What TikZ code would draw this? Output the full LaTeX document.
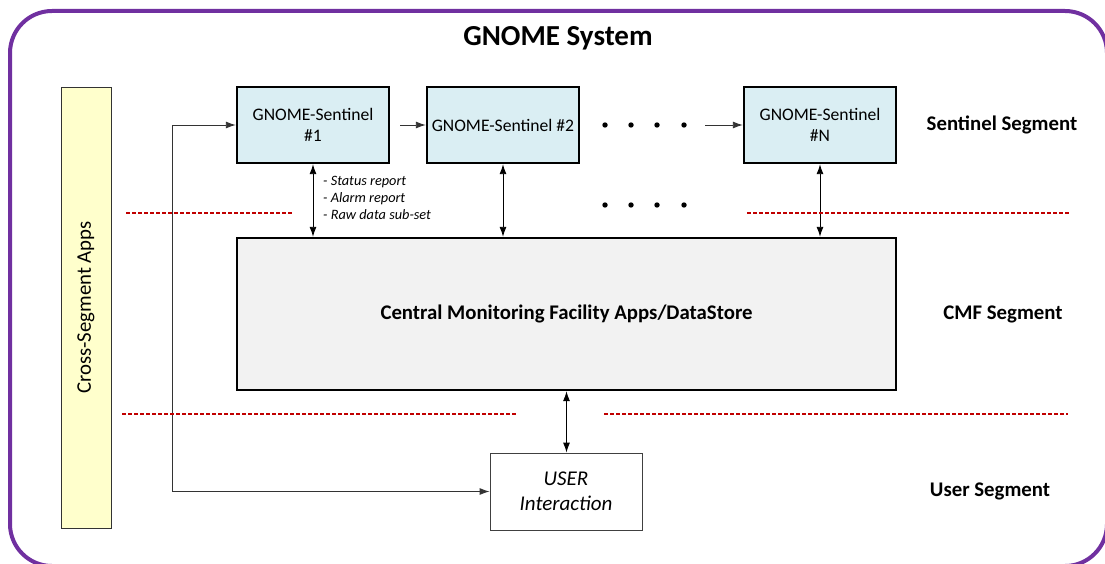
\documentclass[tikz,border=0pt]{standalone}
\usepackage{fontspec}
\setmainfont{Carlito}
\usetikzlibrary{arrows.meta, positioning}
\definecolor{framepurple}{HTML}{7030A0}
\definecolor{sentinelblue}{HTML}{DAEEF3}
\definecolor{cmfgray}{HTML}{F2F2F2}
\definecolor{appyellow}{HTML}{FFFFCC}
\definecolor{segred}{HTML}{C00000}
\tikzset{
    sentinel/.style={draw, line width=2.4pt, fill=sentinelblue, minimum width=152pt, minimum height=76pt,
        align=center, inner sep=0pt, font=\fontsize{17.6}{21.5}\selectfont},
    cmfbox/.style={draw, line width=2.4pt, fill=cmfgray, minimum width=659pt, minimum height=152pt,
        inner sep=0pt, font=\fontsize{20.8}{24}\selectfont\bfseries},
    userbox/.style={draw=black!75, line width=0.9pt, fill=white, minimum width=152pt, minimum height=77pt,
        align=center, inner sep=0pt, font=\fontsize{21}{24.5}\selectfont\itshape},
    appbox/.style={draw=black!80, line width=0.9pt, fill=appyellow, minimum width=50pt, minimum height=441pt,
        inner sep=0pt},
    seglabel/.style={font=\fontsize{20.8}{24}\selectfont\bfseries},
    notetext/.style={align=left, inner sep=0pt, font=\fontsize{14.3}{17}\selectfont\itshape},
    flow/.style={draw=black!80, line width=0.9pt, -{Latex[length=10pt,width=7pt]}},
    bothflow/.style={draw=black, line width=0.9pt, {Latex[length=10pt,width=7pt]}-{Latex[length=10pt,width=7pt]}},
    segline/.style={draw=segred, line width=1.3pt, dash pattern=on 4pt off 2pt},
    dot/.style={fill=black}
}
\begin{document}
\begin{tikzpicture}[x=1pt, y=-1pt]
    \useasboundingbox (0,0) rectangle (1105,564);
    \draw[framepurple, line width=4pt, rounded corners=42pt] (10,11) rectangle (1107,566);
    \node[font=\fontsize{29}{34}\selectfont\bfseries] (title) at (558,38) {GNOME System};

    \node[appbox] (apps) at (86,307.5) {};
    \node[rotate=90, font=\fontsize{20.8}{24}\selectfont] (appstext) at (apps.center) {Cross-Segment Apps};

    % sentinel segment
    \node[sentinel] (s1) at (313,125) {GNOME-Sentinel\\\#1};
    \node[sentinel] (s2) at (503,125) {GNOME-Sentinel \#2};
    \node[sentinel] (sN) at (820,125) {GNOME-Sentinel\\\#N};
    \foreach \x in {605,631,657,684}{
        \fill[dot] (\x,125) circle (2.7pt);
        \fill[dot] (\x,205) circle (2.7pt);
    }
    \coordinate (dotsend) at (705,125);
    \draw[flow] ([xshift=10pt]s1.east) -- (s2.west);
    \draw[flow] (dotsend) -- (sN.west);

    % cmf segment
    \node[cmfbox] (cmf) at (566.5,314) {Central Monitoring Facility Apps/DataStore};
    \draw[bothflow] (s1.south) -- (s1.south |- cmf.north);
    \draw[bothflow] (s2.south) -- (s2.south |- cmf.north);
    \draw[bothflow] (sN.south) -- (sN.south |- cmf.north);
    \node[notetext, anchor=north west] (notes) at (323,176) {- Status report\\- Alarm report\\- Raw data sub-set};

    % user segment
    \node[userbox] (user) at (566,491.5) {USER\\Interaction};
    \draw[bothflow] (cmf.south) -- (cmf.south |- user.north);
    \draw[bothflow, draw=black!80] (s1.west) -- ++(-63,0) |- (user.west);

    \draw[segline] (126,213) -- (292,213);
    \draw[segline] (747,213) -- (1070,213);
    \draw[segline] (122,414) -- (517,414);
    \draw[segline] (604,414) -- (1068,414);

    \node[seglabel] (seglbl1) at (1002,125) {Sentinel Segment};
    \node[seglabel] (seglbl2) at (1003,314) {CMF Segment};
    \node[seglabel] (seglbl3) at (990,491) {User Segment};
\end{tikzpicture}
\end{document}
